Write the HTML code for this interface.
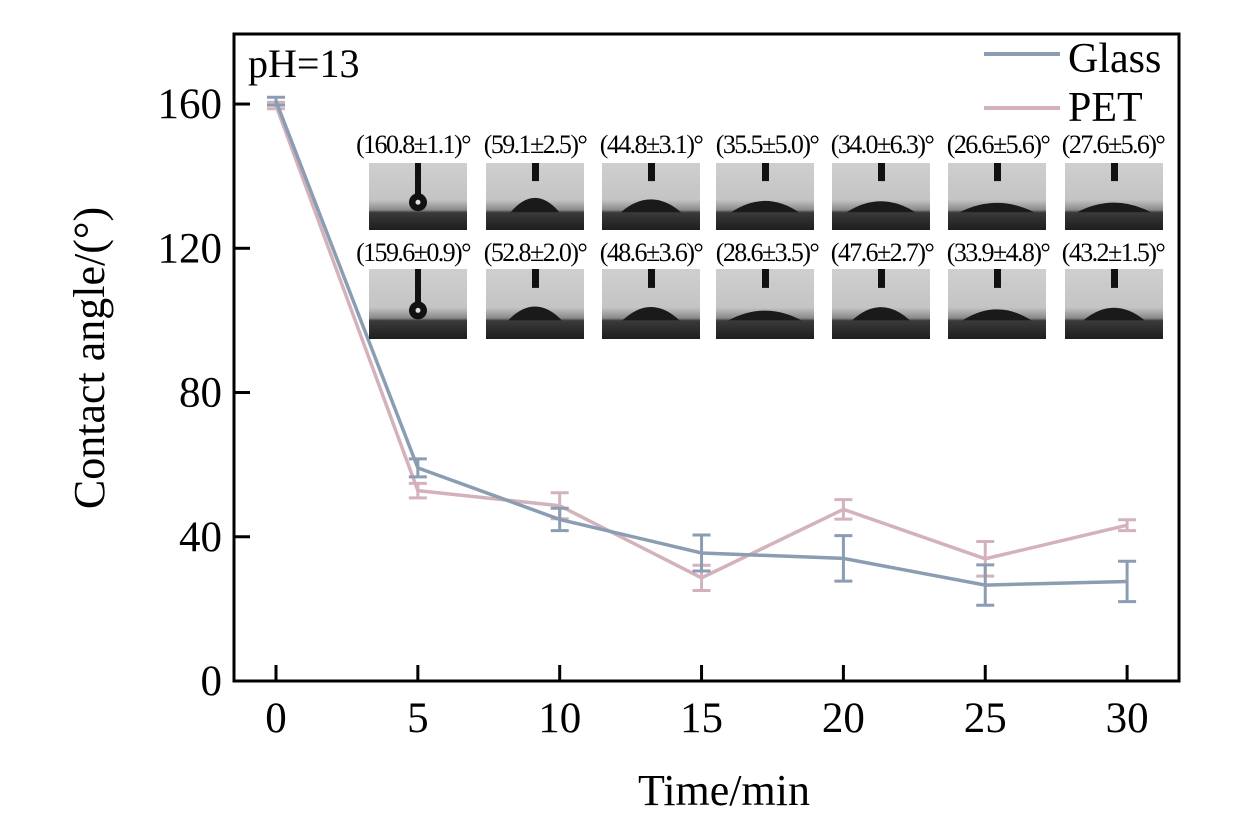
<!DOCTYPE html>
<html><head><meta charset="utf-8"><style>
html,body{margin:0;padding:0;background:#fff;}
svg{display:block;font-family:"Liberation Serif",serif;}
</style></head><body>
<svg id="s" width="1260" height="819" viewBox="0 0 1260 819" xmlns="http://www.w3.org/2000/svg">
<defs>
<linearGradient id="bg" x1="0" y1="0" x2="0" y2="1">
<stop offset="0" stop-color="#cfcfcf"/><stop offset="0.55" stop-color="#c4c4c4"/><stop offset="0.7" stop-color="#8a8a8a"/><stop offset="0.74" stop-color="#3a3a3a"/><stop offset="1" stop-color="#1e1e1e"/>
</linearGradient>
</defs>
<g id="g"></g>
</svg>
<script>
var g=document.getElementById('g'),h='';
function X(t){return 276+t*28.37;}
function Y(v){return 681-v*3.606;}
h+='<rect x="234" y="34" width="945" height="647" fill="none" stroke="#000" stroke-width="3"/>';
[0,40,80,120,160].forEach(function(v){var y=Y(v);h+='<line x1="234" x2="250" y1="'+y+'" y2="'+y+'" stroke="#000" stroke-width="3"/>';
h+='<text x="222" y="'+(y+14)+'" font-size="43" text-anchor="end">'+v+'</text>';});
[0,5,10,15,20,25,30].forEach(function(t){var x=X(t);h+='<line x1="'+x+'" x2="'+x+'" y1="681" y2="665" stroke="#000" stroke-width="3"/>';
h+='<text x="'+x+'" y="732" font-size="43" text-anchor="middle">'+t+'</text>';});
h+='<text x="724" y="805" font-size="44" text-anchor="middle">Time/min</text>';
h+='<text transform="translate(104,358) rotate(-90)" font-size="44" text-anchor="middle">Contact angle/(°)</text>';
h+='<text x="248" y="77" font-size="40">pH=13</text>';
h+='<line x1="984" x2="1060" y1="54" y2="54" stroke="#8a9db3" stroke-width="4"/><text x="1068" y="72" font-size="42">Glass</text>';
h+='<line x1="984" x2="1060" y1="108" y2="108" stroke="#d4b2bb" stroke-width="4"/><text x="1068" y="121" font-size="42">PET</text>';
var T=[0,5,10,15,20,25,30];
var G=[[160.8,1.1],[59.1,2.5],[44.8,3.1],[35.5,5.0],[34.0,6.3],[26.6,5.6],[27.6,5.6]];
var P=[[159.6,0.9],[52.8,2.0],[48.6,3.6],[28.6,3.5],[47.6,2.7],[33.9,4.8],[43.2,1.5]];
function series(D,c){var pts=D.map(function(d,i){return X(T[i])+','+Y(d[0]);}).join(' ');
var s='<polyline points="'+pts+'" fill="none" stroke="'+c+'" stroke-width="3.5"/>';
D.forEach(function(d,i){var x=X(T[i]),a=Y(d[0]+d[1]),b=Y(d[0]-d[1]);
s+='<path d="M'+x+' '+a+'V'+b+'M'+(x-9)+' '+a+'H'+(x+9)+'M'+(x-9)+' '+b+'H'+(x+9)+'" stroke="'+c+'" stroke-width="3" fill="none"/>';});return s;}
h+=series(P,'#d4b2bb');h+=series(G,'#8a9db3');
var L1=['(160.8±1.1)°','(59.1±2.5)°','(44.8±3.1)°','(35.5±5.0)°','(34.0±6.3)°','(26.6±5.6)°','(27.6±5.6)°'];
var L2=['(159.6±0.9)°','(52.8±2.0)°','(48.6±3.6)°','(28.6±3.5)°','(47.6±2.7)°','(33.9±4.8)°','(43.2±1.5)°'];
var cx=[369,486,602,716,832,948,1065];
var cxt=[413,535,651,767,882,998,1113];
function img(x,y,hgt,k,v){var s='<rect x="'+x+'" y="'+y+'" width="98" height="'+hgt+'" fill="url(#bg)"/>';
var base=y+hgt*0.72,mx=x+49;
if(k==0){s+='<rect x="'+(mx-3)+'" y="'+y+'" width="6" height="'+(hgt*0.5)+'" fill="#111"/><circle cx="'+mx+'" cy="'+(base-9)+'" r="9" fill="#111"/><circle cx="'+mx+'" cy="'+(base-9)+'" r="2.5" fill="#ddd"/>';}
else{var w=(60-v)*0.4+24;var hh=w*Math.tan(v*Math.PI/360);s+='<rect x="'+(mx-3)+'" y="'+y+'" width="7" height="'+(hgt*0.27)+'" fill="#111"/><path d="M'+(mx-w)+' '+(base+1)+'Q'+mx+' '+(base-2*hh)+' '+(mx+w)+' '+(base+1)+'Z" fill="#1a1a1a"/>';}
return s;}
for(var i=0;i<7;i++){
h+='<text x="'+cxt[i]+'" y="153" font-size="26" text-anchor="middle" letter-spacing="-1.6">'+L1[i]+'</text>';
h+='<text x="'+cxt[i]+'" y="261" font-size="26" text-anchor="middle" letter-spacing="-1.6">'+L2[i]+'</text>';
h+=img(cx[i],163,67,i,G[i][0]);h+=img(cx[i],269,70,i,P[i][0]);}
g.innerHTML=h;
</script>
</body></html>
